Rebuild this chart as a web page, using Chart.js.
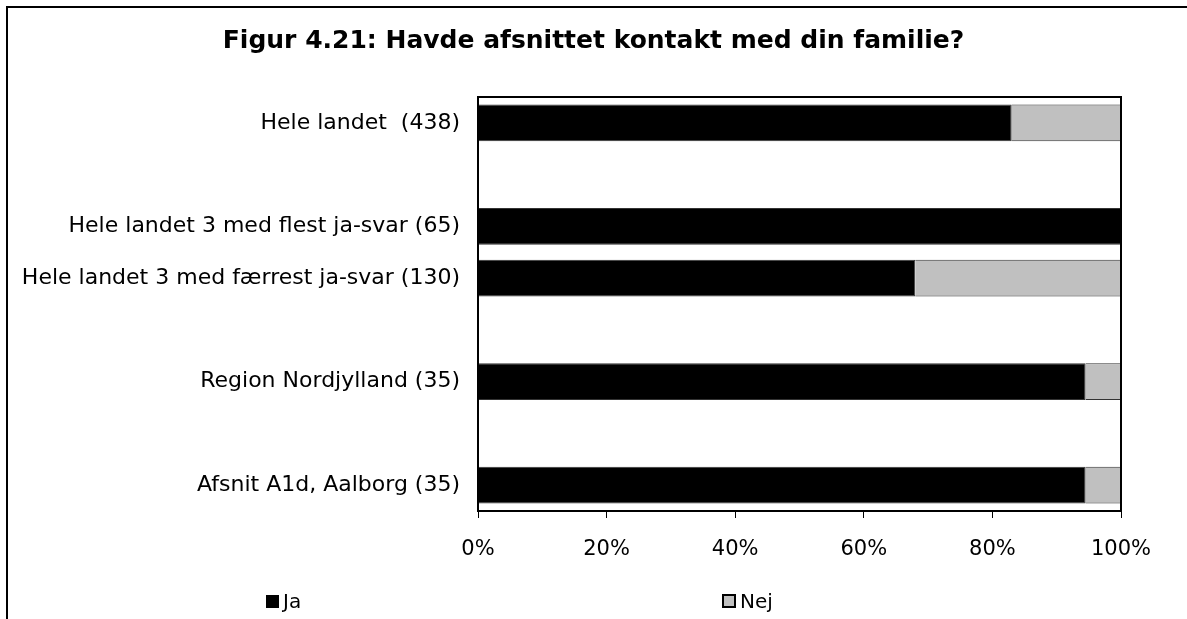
<!DOCTYPE html>
<html>
<head>
<meta charset="utf-8">
<script src="https://cdn.jsdelivr.net/npm/chart.js@4"></script>
<style>
  body { margin: 0; background: #fff; }
  #wrap { position: relative; width: 1187px; height: 619px; }
  #frame { position: absolute; left: 6px; top: 6px; width: 1181px; height: 613px;
           border-left: 2px solid #000; border-top: 2px solid #000; box-sizing: border-box; }
  .legend-item { position: absolute; top: 589px; font: 20px "DejaVu Sans", Verdana, sans-serif; color: #000; }
  .legend-item span.box { display: inline-block; width: 11px; height: 11px; border: 1px solid #000;
                          margin-right: 4px; vertical-align: 0px; }
</style>
</head>
<body>
<div id="wrap">
  <div id="frame"></div>
  <canvas id="chart" width="1187" height="619"></canvas>
  <div class="legend-item" style="left:266px"><span class="box" style="background:#000"></span>Ja</div>
  <div class="legend-item" style="left:722px"><span class="box" style="background:#c0c0c0;border-width:2px;width:10px;height:10px"></span>Nej</div>
</div>
<script>
// kategorier og værdier
const categories = [
    'Hele landet  (438)',
    '',
    'Hele landet 3 med flest ja-svar (65)',
    'Hele landet 3 med færrest ja-svar (130)',
    '',
    'Region Nordjylland (35)',
    '',
    'Afsnit A1d, Aalborg (35)'
];
const jaValues  = [83, null, 100, 68, null, 94.5, null, 94.5];
const nejValues = [17, null, 0, 32, null, 5.5, null, 5.5];
const tickLabels = ['0%', '20%', '40%', '60%', '80%', '100%'];

const font = '"DejaVu Sans", Verdana, sans-serif';

// ramme om plotområdet
const plotBorder = {
    id: 'plotBorder',
    afterDraw(chart) {
        const a = chart.chartArea;
        const ctx = chart.ctx;
        ctx.save();
        ctx.strokeStyle = '#000';
        ctx.lineWidth = 2;
        ctx.strokeRect(a.left, a.top, a.right - a.left, a.bottom - a.top);
        ctx.restore();
    }
};

const ctx = document.getElementById('chart').getContext('2d');
new Chart(ctx, {
    type: 'bar',
    data: {
        labels: categories,
        datasets: [{
            label: 'Ja',
            data: jaValues,
            backgroundColor: '#000000',
            borderColor: '#333333',
            borderWidth: 1
        }, {
            label: 'Nej',
            data: nejValues,
            backgroundColor: '#c0c0c0',
            borderColor: '#333333',
            borderWidth: 1
        }]
    },
    options: {
        indexAxis: 'y',
        responsive: false,
        animation: false,
        categoryPercentage: 1,
        barPercentage: 0.71,
        layout: {
            padding: { left: 0, right: 0, top: 0, bottom: 48 }
        },
        scales: {
            x: {
                stacked: true,
                min: 0,
                max: 100,
                afterFit: scale => { scale.height = 60; },
                afterBuildTicks: scale => {
                    scale.ticks = tickLabels.map((t, i) => ({ value: i * 20 }));
                },
                grid: {
                    drawOnChartArea: false,
                    drawTicks: true,
                    tickLength: 7,
                    color: '#000'
                },
                border: { color: '#000', width: 2 },
                ticks: {
                    color: '#000',
                    padding: 19,
                    font: { family: font, size: 21 },
                    callback: (v, i) => tickLabels[i]
                }
            },
            y: {
                stacked: true,
                afterFit: scale => { scale.width = 478; },
                grid: { display: false },
                border: { color: '#000', width: 2 },
                ticks: {
                    color: '#000',
                    padding: 10,
                    autoSkip: false,
                    font: { family: font, size: 22 }
                }
            },
            // tom akse i højre side, så titlen centreres over hele figuren
            yRight: {
                axis: 'y',
                type: 'category',
                labels: categories,
                position: 'right',
                afterFit: scale => { scale.width = 66; },
                grid: { display: false },
                border: { display: false },
                ticks: { display: false }
            }
        },
        plugins: {
            legend: { display: false },
            tooltip: { enabled: false },
            title: {
                display: true,
                text: 'Figur 4.21: Havde afsnittet kontakt med din familie?',
                color: '#000',
                font: { family: font, size: 25, weight: 'bold' },
                padding: { top: 26, bottom: 41 }
            }
        }
    },
    plugins: [plotBorder]
});
</script>
</body>
</html>
